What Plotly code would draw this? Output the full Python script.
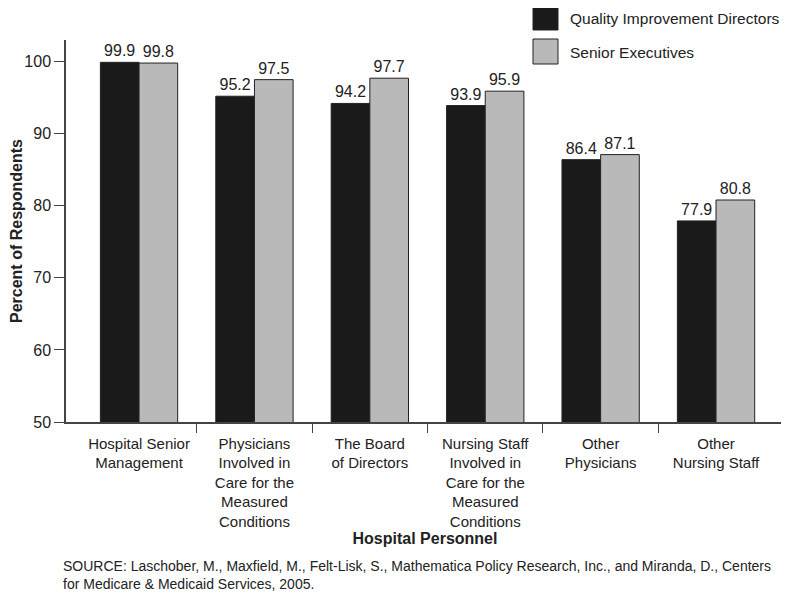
import plotly.graph_objects as go

categories = [
    "Hospital Senior<br>Management",
    "Physicians<br>Involved in<br>Care for the<br>Measured<br>Conditions",
    "The Board<br>of Directors",
    "Nursing Staff<br>Involved in<br>Care for the<br>Measured<br>Conditions",
    "Other<br>Physicians",
    "Other<br>Nursing Staff",
]
qi_directors = [99.9, 95.2, 94.2, 93.9, 86.4, 77.9]
senior_execs = [99.8, 97.5, 97.7, 95.9, 87.1, 80.8]
series_names = ["Quality Improvement Directors", "Senior Executives"]
y_ticks = [50, 60, 70, 80, 90, 100]

FONT = "Liberation Sans, Arial, Helvetica, sans-serif"
x_idx = list(range(len(categories)))

# page body has an 8px margin; plot area placed at page x 66..784, y 40..422
OFF = 8
PX0, PX1, PY0, PY1 = 66, 784, 40, 422
W, H = 789 - OFF, 593 - OFF


def px(xp):
    return (xp - PX0) / (PX1 - PX0)


def py(yp):
    return 1 - (yp - PY0) / (PY1 - PY0)


fig = go.Figure()
fig.add_trace(go.Bar(
    x=x_idx, y=qi_directors, name=series_names[0],
    marker=dict(color="#1a1a1a", line=dict(color="#222", width=1)),
    texttemplate="%{y:.1f}", textposition="outside", cliponaxis=False,
    textfont=dict(size=16, color="#222", family=FONT),
    showlegend=False,
))
fig.add_trace(go.Bar(
    x=x_idx, y=senior_execs, name=series_names[1],
    marker=dict(color="#b9b9b9", line=dict(color="#222", width=1)),
    texttemplate="%{y:.1f}", textposition="outside", cliponaxis=False,
    textfont=dict(size=16, color="#222", family=FONT),
    showlegend=False,
))
# invisible trace to activate xaxis2 (divider ticks between categories)
fig.add_trace(go.Scatter(x=[0], y=[50], xaxis="x2", mode="markers",
                         marker=dict(opacity=0), showlegend=False, hoverinfo="skip"))

xr = [-0.633, 5.589]
fig.update_layout(
    width=W, height=H,
    margin=dict(l=PX0 - OFF, r=W - (PX1 - OFF), t=PY0 - OFF, b=H - (PY1 - OFF)),
    paper_bgcolor="white", plot_bgcolor="white",
    font=dict(family=FONT, size=15, color="#222"),
    barmode="group", bargap=0.33, bargroupgap=0,
    xaxis=dict(
        range=xr, tickmode="array", tickvals=x_idx, ticktext=categories,
        ticks="", showline=True, linecolor="#444", linewidth=1.5,
        showgrid=False, zeroline=False, tickfont=dict(size=15),
        ticklabelstandoff=7, automargin=False,
        title=dict(text="<b>Hospital Personnel</b>", font=dict(size=16), standoff=4),
    ),
    xaxis2=dict(
        range=xr, overlaying="x", anchor="y", side="bottom",
        tickmode="array", tickvals=[0.5, 1.5, 2.5, 3.5, 4.5], ticktext=[""] * 5,
        ticks="outside", ticklen=10, tickcolor="#444", tickwidth=1,
        showline=False, showgrid=False, zeroline=False, showticklabels=False,
        automargin=False,
    ),
    yaxis=dict(
        range=[50, 103], tickmode="array", tickvals=y_ticks,
        ticks="outside", ticklen=10, tickcolor="#444", tickwidth=1,
        showline=True, linecolor="#444", linewidth=1.5,
        showgrid=False, zeroline=False, tickfont=dict(size=16),
        automargin=False,
        title=dict(text="<b>Percent of Respondents</b>", font=dict(size=16), standoff=4),
    ),
)

# custom legend with large swatches as in the reference
legend_colors = ["#1a1a1a", "#b9b9b9"]
for i, (nm, col) in enumerate(zip(series_names, legend_colors)):
    y0 = 5 + i * 34
    fig.add_shape(type="rect", xref="paper", yref="paper",
                  x0=px(533), x1=px(558), y0=py(y0 + 25), y1=py(y0),
                  fillcolor=col, line=dict(color="#222", width=1))
    fig.add_annotation(xref="paper", yref="paper",
                       x=px(568), y=py(y0 + 13),
                       text=nm, showarrow=False, xanchor="left", yanchor="middle",
                       font=dict(size=15.5, color="#222"))

fig.add_annotation(
    xref="paper", yref="paper", x=px(61), y=py(556),
    xanchor="left", yanchor="top", align="left", showarrow=False,
    text="SOURCE: Laschober, M., Maxfield, M., Felt-Lisk, S., Mathematica Policy Research, Inc., and Miranda, D., Centers<br>for Medicare &amp; Medicaid Services, 2005.",
    font=dict(size=14, color="#222"),
)

fig.write_html("out.html")
